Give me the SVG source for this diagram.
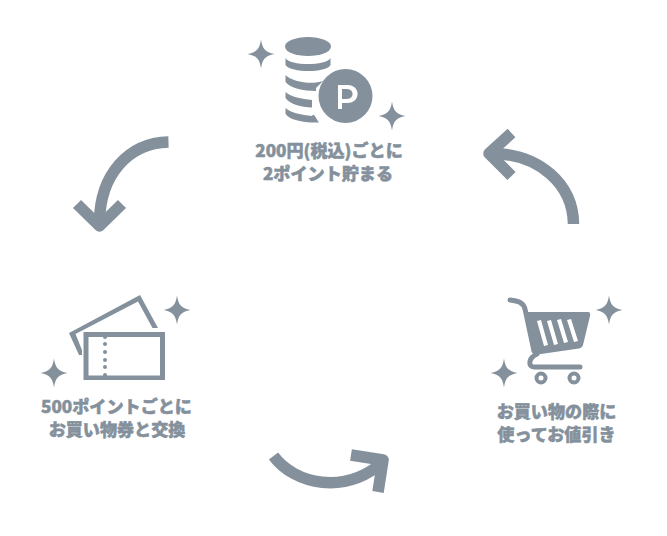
<svg xmlns="http://www.w3.org/2000/svg" width="667" height="536" viewBox="0 0 667 536">
<style>
.f{fill:#84919c}
.w{fill:#fff}
.l{fill:none;stroke:#84919c;stroke-width:11.500;stroke-linejoin:round}
.t{fill:#84919c;stroke:#84919c;stroke-width:.5px;font-family:"Noto Sans CJK JP","Noto Sans",sans-serif;font-weight:900;font-size:17.100px;text-anchor:middle}
</style>
<defs>
<path id="s" d="M0-14.500C1.500-5 4-2 13.500 0C4 2 1.500 5 0 14.500C-1.500 5-4 2-13.500 0C-4-2-1.500-5 0-14.500Z"/>
</defs>
<rect width="667" height="536" fill="#fff"/>
<g id="connectors">
<path class="l" d="M168.500 142C128 143 100 175 99.500 222"/><path class="l" d="M77 204L99.500 226L122 204"/>
<path class="l" d="M573.500 224C573 185 540 153 490 153.500"/><path class="l" d="M511.500 133L489 153.500L511.500 176"/>
<path class="l" d="M273.500 456C295 485 345 495 383 462"/><path class="l" d="M351 455L383 460L378 492"/>
</g>
<g id="node-points" class="f">
<use href="#s" x="261" y="54"/><use href="#s" x="392" y="116"/>
<ellipse cx="308" cy="46.500" rx="23" ry="9.500"/>
<path d="M285.500 58C290 66 326 66 330.500 58V65C326 73 291 73 285.500 65Z"/>
<path d="M285.500 75C292 82 312 85 323 81L316 88V91C303 91 290 88 285.500 82Z"/>
<path d="M285.500 92C291 97 302 99 312 100V107.500C301 107.500 290 104 285.500 98Z"/>
<path d="M285.500 108C291 113 302 115 312 116C314 112 316 119 319 122.500C303 123 290 120 285.500 114Z"/>
<circle cx="345.500" cy="96" r="27"/>
<path class="w" d="M338 109V85H347.500C361 85 361 103 347.500 103H342V109ZM342 89V99H347C354.500 99 354.500 89 347 89Z"/>
<text class="t" x="329" y="157">200円(税込)ごとに</text>
<text class="t" x="328" y="180">2ポイント貯まる</text>
</g>
<g id="node-tickets" class="f">
<use href="#s" x="177" y="310"/><use href="#s" x="54" y="373"/>
<path d="M140 295L158 328H152.500L138 301.500L75.500 334L82 350V355L79 355L69 333Z"/>
<path fill-rule="evenodd" d="M83.500 332H165V380H83.500ZM88.500 337V375.500H160V337Z"/>
<g><circle cx="105" cy="337" r="2"/><circle cx="105" cy="344" r="2"/><circle cx="105" cy="352" r="2"/><circle cx="105" cy="360" r="2"/><circle cx="105" cy="367" r="2"/><circle cx="105" cy="375" r="2"/></g>
<text class="t" x="116.500" y="412.500">500ポイントごとに</text>
<text class="t" x="117" y="435.500">お買い物券と交換</text>
</g>
<g id="node-cart" class="f">
<use href="#s" x="609" y="310"/><use href="#s" x="504" y="373"/>
<path class="l" style="stroke-width:5;stroke-linecap:round" d="M510 300C518 301 523 302 525 309L534 351"/>
<path d="M526 312H588C590 312 590.500 314 590 316L583 345C582.500 347 581 348 579 348.500L534 355Z"/>
<path class="w" d="M537 321L541 320L548 345L544 346ZM547 321L551 320L558 344L554 345ZM557 320L561 319L568 342L564 343ZM567 320L571 319L578 341L574 342Z"/>
<path class="l" style="stroke-width:5;stroke-linecap:round" d="M537 354C528 358 528 367 534 367H580"/>
<circle cx="541" cy="378" r="4.500" fill="none" stroke="#84919c" stroke-width="4"/>
<circle cx="574" cy="378" r="4.500" fill="none" stroke="#84919c" stroke-width="4"/>
<text class="t" x="556.500" y="417.500">お買い物の際に</text>
<text class="t" x="556.500" y="440.500">使ってお値引き</text>
</g>
</svg>
